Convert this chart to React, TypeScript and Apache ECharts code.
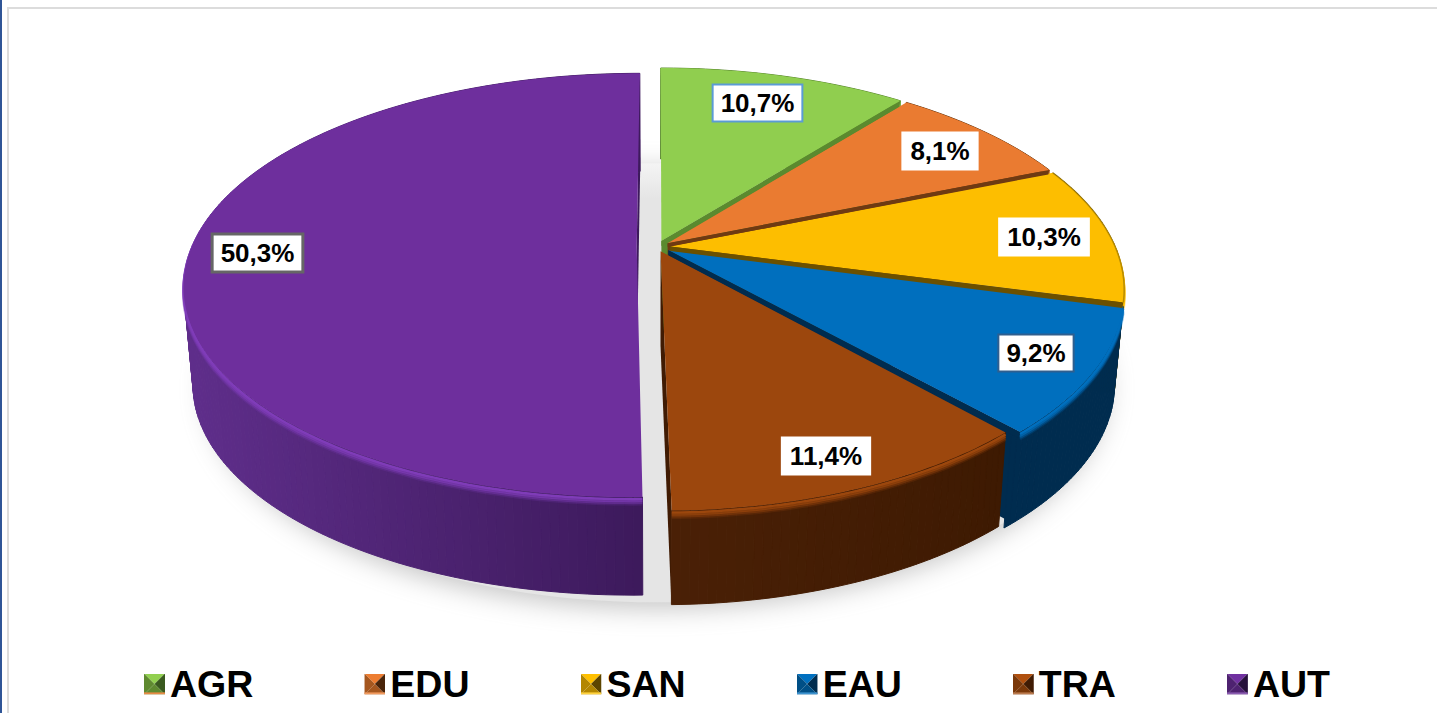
import React, { useEffect, useRef } from "react";
import * as echarts from "echarts";

const CATEGORIES = ["AGR", "EDU", "SAN", "EAU", "TRA", "AUT"];
const VALUES = [10.7, 8.1, 10.3, 9.2, 11.4, 50.3];
const LABELS = ["10,7%", "8,1%", "10,3%", "9,2%", "11,4%", "50,3%"];

const TOP_COLORS = ["#90ce4f", "#ea7b31", "#fdbe00", "#006fbe", "#9c470d", "#6e2f9d"];
const RIM_COLORS = ["#90ce4f", "#ea7b31", "#fdbe00", "#006fbe", "#9c470d", "#7f3cb8"];
const FACE_COLORS = ["#5b8a2f", "#6f3a12", "#6b5000", "#002c4f", "#401b03", "#3d1a5c"];
const WALL_LEFT = ["#5b8a2f", "#6f3a12", "#6b5000", "#002c4f", "#4a2006", "#5f2e8b"];
const WALL_RIGHT = ["#5b8a2f", "#6f3a12", "#6b5000", "#002c4f", "#3e1a02", "#3d1a5c"];
const EXPLODE = [0.03, 0.03, 0.03, 0.03, 0.022, 0.0456];
const WIDTH_X = [445, 445, 445, 445, 438, 445];
const PERSPECTIVE = [0.193, 0.193, 0.193, 0.193, 0.193, 0.18];
const HALF_DEPTH_Y = [208.6, 208.6, 208.6, 208.6, 207.5, 205];
const WALL_DEPTH = [91, 91, 91, 91, 94, 98];
const WALL_OVERRUN = [0, 0, 0, 1.5, 0, 0];
const LABEL_CENTERS = [[757.5, 103], [940, 151], [1044, 237], [1036, 353], [826, 456], [257.5, 253]];
const LABEL_BORDERS = ["#5b9bd5", "#ffffff", "#ffffff", "#2f5f8f", "#ffffff", "#666666"];
const STRIP_WIDTH = [6, 4.5, 5.5, 6];
const ICON_COLORS = [
  ["#92d050", "#5f8a30", "#3a5a1f", "#e88a45"],
  ["#ed7d31", "#a5571f", "#4a2409", "#f29a5e"],
  ["#ffc000", "#b38600", "#5c4500", "#ffd23f"],
  ["#0070c0", "#004f86", "#002c4f", "#3d93d0"],
  ["#b0500e", "#7a3809", "#401b03", "#bb7a4d"],
  ["#7030a0", "#4e2270", "#26103a", "#8a5bb0"],
];

const CX = 657;
const CY = 247;
const BOTTOM_SCALE = 0.98;

const TOTAL = VALUES.reduce((s, v) => s + v, 0);
const startAngle = (i: number) => (VALUES.slice(0, i).reduce((s, v) => s + v, 0) / TOTAL) * 360;
const rad = (d: number) => (d * Math.PI) / 180;

const project = (i: number, u: number, v: number, bottom: boolean, extraY = 0): number[] => {
  const w = 1 - PERSPECTIVE[i] * v;
  const sx = bottom ? BOTTOM_SCALE : 1;
  return [CX + (WIDTH_X[i] * sx * u) / w, CY + (bottom ? WALL_DEPTH[i] : 0) + (HALF_DEPTH_Y[i] * v) / w + extraY];
};

const arcUV = (i: number, deg: number): number[] => {
  const mid = rad(startAngle(i) + (VALUES[i] / TOTAL) * 180);
  const e = EXPLODE[i];
  return [Math.sin(rad(deg)) + e * Math.sin(mid), -Math.cos(rad(deg)) - e * Math.cos(mid)];
};

const apexUV = (i: number): number[] => {
  const mid = rad(startAngle(i) + (VALUES[i] / TOTAL) * 180);
  return [EXPLODE[i] * Math.sin(mid), -EXPLODE[i] * Math.cos(mid)];
};

const rim = (i: number, bottom: boolean, extraY = 0, overrun = 0): number[][] => {
  const a0 = startAngle(i);
  const a1 = a0 + (VALUES[i] / TOTAL) * 360 + overrun;
  const n = Math.max(4, Math.ceil(a1 - a0));
  const pts: number[][] = [];
  for (let j = 0; j <= n; j++) {
    const [u, v] = arcUV(i, a0 + ((a1 - a0) * j) / n);
    pts.push(project(i, u, v, bottom, extraY));
  }
  return pts;
};

const hex = (c: string) => [1, 3, 5].map((p) => parseInt(c.slice(p, p + 2), 16));
const mix = (a: string, b: string, t: number) => {
  const ca = hex(a);
  const cb = hex(b);
  return `rgb(${ca.map((x, k) => Math.round(x + (cb[k] - x) * t)).join(",")})`;
};

const shadowEllipse = (): number[][] => {
  const pts: number[][] = [];
  for (let d = 0; d < 360; d += 2) {
    pts.push(project(0, 1.012 * Math.sin(rad(d)), -1.012 * Math.cos(rad(d)), true, 2));
  }
  return pts;
};

const sliceRenderer = (i: number) => () => {
  const children: any[] = [];
  if (i === 5) {
    children.push({
      type: "polygon",
      shape: { points: shadowEllipse() },
      style: {
        fill: new echarts.graphic.LinearGradient(0, 0, 0, 1, [
          { offset: 0, color: "#f4f4f4" },
          { offset: 0.08, color: "#e5e5e5" },
          { offset: 1, color: "#e5e5e5" },
        ]),
        shadowBlur: 26,
        shadowColor: "#c4c4c4",
        shadowOffsetY: 6,
      },
    });
  }
  const topRim = rim(i, false);
  const wallTop = rim(i, false, 0, WALL_OVERRUN[i]);
  const wallBottom = rim(i, true, 0, WALL_OVERRUN[i]);
  const bottomRim = rim(i, true);
  const [au, av] = apexUV(i);
  const apexTop = project(i, au, av, false);
  const apexBottom = project(i, au, av, true);
  children.push({
    type: "polygon",
    shape: { points: [apexTop, topRim[topRim.length - 1], bottomRim[bottomRim.length - 1], apexBottom] },
    style: { fill: FACE_COLORS[i] },
  });
  const xs = wallBottom.map((p) => p[0]);
  const xMin = Math.min(...xs);
  const xMax = Math.max(...xs);
  for (let j = 0; j < wallTop.length - 1; j++) {
    const t = (wallBottom[j][0] - xMin) / Math.max(1, xMax - xMin);
    const color = mix(WALL_LEFT[i], WALL_RIGHT[i], t);
    children.push({
      type: "polygon",
      shape: { points: [wallTop[j], wallTop[j + 1], wallBottom[j + 1], wallBottom[j]] },
      style: { fill: color, stroke: color, lineWidth: 1 },
    });
  }
  [[7, 3, 0.2], [5.5, 3, 0.4], [4, 2.5, 0.7], [2, 2.5, 1]].forEach(([dy, width, opacity]) => {
    children.push({
      type: "polyline",
      shape: { points: rim(i, false, dy) },
      style: { stroke: RIM_COLORS[i], lineWidth: width, opacity, fill: null },
    });
  });
  children.push({
    type: "polygon",
    shape: { points: [apexTop, ...topRim] },
    style: { fill: TOP_COLORS[i] },
  });
  if (i === 2) {
    children.push({
      type: "polyline",
      shape: { points: topRim },
      style: { stroke: "#8a6a00", lineWidth: 1.5, opacity: 0.6, fill: null },
    });
  }
  if (i >= 1 && i <= 4) {
    const p = i - 1;
    const pRim = rim(p, false);
    const end = pRim[pRim.length - 1];
    const [pu, pv] = apexUV(p);
    const pApex = project(p, pu, pv, false);
    const w = STRIP_WIDTH[p];
    children.push({
      type: "polygon",
      shape: { points: [pApex, end, [end[0] - w * 0.2, end[1] + w], [pApex[0], pApex[1] + w * 0.8]] },
      style: { fill: FACE_COLORS[p] },
    });
  }
  children.push({
    type: "text",
    x: LABEL_CENTERS[i][0],
    y: LABEL_CENTERS[i][1],
    style: {
      text: LABELS[i],
      font: 'bold 26px "Liberation Sans", Arial, sans-serif',
      fill: "#000000",
      align: "center",
      verticalAlign: "middle",
      backgroundColor: "#ffffff",
      borderColor: LABEL_BORDERS[i],
      borderWidth: i === 5 ? 3 : 2,
      padding: [5, 7, 4, 7],
    },
  });
  return { type: "group", children };
};

const iconUri = (c: string[]) => {
  const svg =
    `<svg xmlns="http://www.w3.org/2000/svg" width="20" height="20" viewBox="0 0 20 20">` +
    `<polygon points="0,0 20,0 10,10" fill="${c[0]}"/>` +
    `<polygon points="0,0 0,20 10,10" fill="${c[1]}"/>` +
    `<polygon points="20,0 20,20 10,10" fill="${c[2]}"/>` +
    `<polygon points="0,20 20,20 10,10" fill="${c[1]}"/>` +
    `<rect x="0" y="18" width="20" height="2" fill="${c[3]}"/>` +
    `</svg>`;
  return "image://data:image/svg+xml;charset=utf-8," + encodeURIComponent(svg);
};

// AUT is the rear slice and is painted first; the rest follow clockwise.
const PAINT_ORDER = [5, 0, 1, 2, 3, 4];

export default function App() {
  const ref = useRef<HTMLDivElement>(null);
  useEffect(() => {
    if (!ref.current) return;
    const chart = echarts.init(ref.current, null, { renderer: "svg" });
    chart.setOption({
      animation: false,
      backgroundColor: "#ffffff",
      legend: {
        show: true,
        selectedMode: false,
        left: 144,
        top: 665,
        padding: 0,
        itemWidth: 21,
        itemHeight: 21,
        itemGap: 111,
        textStyle: {
          fontSize: 37.5,
          fontWeight: "bold",
          fontFamily: '"Liberation Sans", Arial, sans-serif',
          color: "#000000",
        },
        data: CATEGORIES.map((name, i) => ({ name, icon: iconUri(ICON_COLORS[i]) })),
      },
      graphic: [
        { type: "rect", silent: true, z: -1, shape: { x: 0, y: 0, width: 2, height: 713 }, style: { fill: "#2f5597" } },
        { type: "rect", silent: true, z: -1, shape: { x: 7, y: 7, width: 2, height: 706 }, style: { fill: "#dcdcdc" } },
        { type: "rect", silent: true, z: -1, shape: { x: 7, y: 7, width: 1430, height: 2 }, style: { fill: "#dcdcdc" } },
      ],
      series: PAINT_ORDER.map((i) => ({
        type: "custom",
        name: CATEGORIES[i],
        coordinateSystem: "none",
        silent: true,
        itemStyle: { color: TOP_COLORS[i] },
        data: [[VALUES[i]]],
        renderItem: sliceRenderer(i),
      })),
    });
    return () => chart.dispose();
  }, []);
  return <div ref={ref} style={{ position: "absolute", left: 0, top: 0, width: 1437, height: 713 }} />;
}
